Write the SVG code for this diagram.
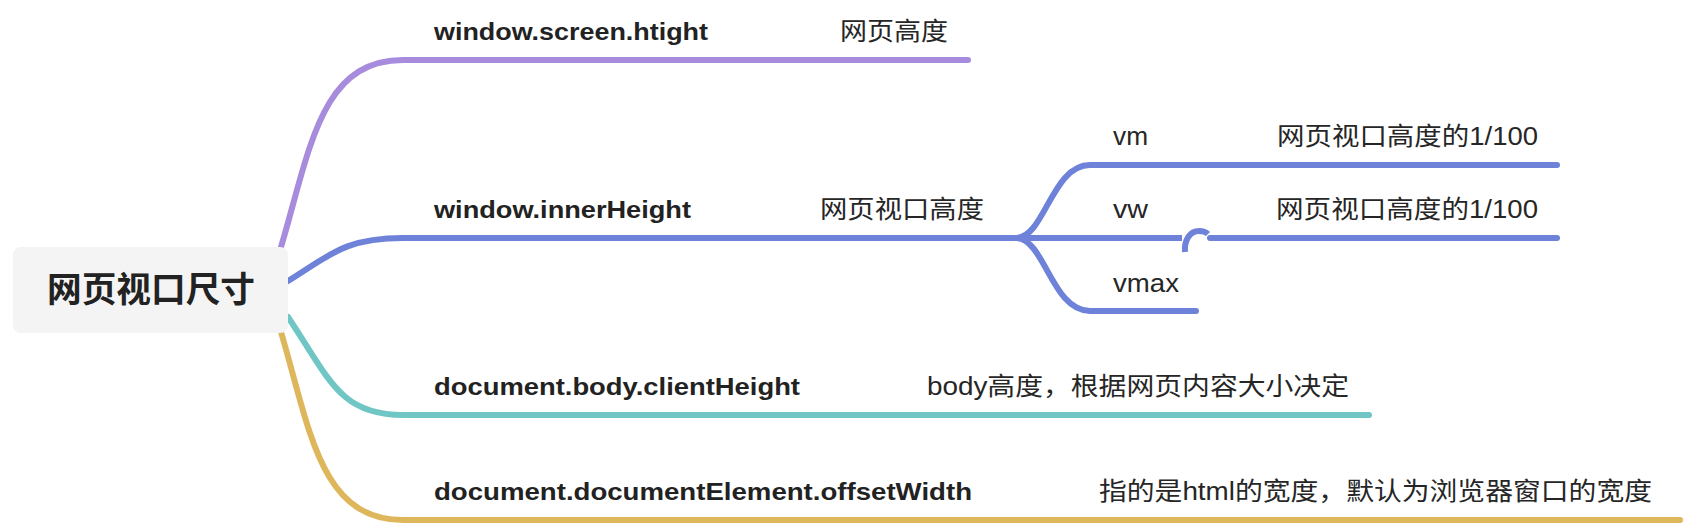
<svg xmlns="http://www.w3.org/2000/svg" width="1684" height="524" viewBox="0 0 1684 524">
  <style>
    .ln { fill: none; stroke-width: 6; stroke-linecap: round; stroke-linejoin: round; }
    .pu { stroke: #A78BDD; }
    .bl { stroke: #6F82DA; }
    .te { stroke: #6FC6C4; }
    .go { stroke: #DEB75D; }
    .t1 { font-family: "Liberation Sans", "Noto Sans CJK SC", sans-serif; font-size: 24px; font-weight: bold; fill: #222; }
    .t2 { font-family: "Liberation Sans", "Noto Sans CJK SC", sans-serif; font-size: 25px; fill: #262626; }
    .root { font-family: "Noto Sans CJK SC", sans-serif; font-size: 35px; font-weight: bold; fill: #222; }
  </style>
  <rect width="1684" height="524" fill="#ffffff"/>
  <g id="connectors">
    <path class="ln pu" d="M281 247 C310 150 320 60 403 60 H968"/>
    <path class="ln bl" d="M288 281 C330 255 345 238 403 238 H1017"/>
    <path class="ln bl" d="M1017 238 C1045 236 1052 165 1090 165 H1557"/>
    <path class="ln bl" d="M1017 238 H1182" style="stroke-linecap:butt"/>
    <path class="ln bl" d="M1185 252 C1184 240 1190 231 1199 231 C1203 231 1206 232 1208 234" style="stroke-linecap:butt"/>
    <path class="ln bl" d="M1210 238 H1557"/>
    <path class="ln bl" d="M1017 238 C1045 240 1052 311 1090 311 H1196"/>
    <path class="ln te" d="M288 317 C330 380 340 415 403 415 H1369"/>
    <path class="ln go" d="M281 332 C310 430 320 520 403 520 H1680"/>
  </g>
  <g id="root">
    <rect x="13" y="247" width="275" height="86" rx="8" fill="#F4F4F4"/>
    <text class="root" x="47" y="302" textLength="208" lengthAdjust="spacingAndGlyphs">网页视口尺寸</text>
  </g>
  <g id="n-screen">
    <text class="t1" x="434" y="40" textLength="274" lengthAdjust="spacingAndGlyphs">window.screen.htight</text>
  </g>
  <g id="n-screen-desc">
    <text class="t2" x="840" y="40" textLength="108" lengthAdjust="spacingAndGlyphs">网页高度</text>
  </g>
  <g id="n-inner">
    <text class="t1" x="434" y="218" textLength="257" lengthAdjust="spacingAndGlyphs">window.innerHeight</text>
  </g>
  <g id="n-inner-desc">
    <text class="t2" x="820" y="218" textLength="164" lengthAdjust="spacingAndGlyphs">网页视口高度</text>
  </g>
  <g id="n-vm">
    <text class="t2" x="1113" y="145" textLength="35" lengthAdjust="spacingAndGlyphs">vm</text>
  </g>
  <g id="n-vm-desc">
    <text class="t2" x="1277" y="145" textLength="261" lengthAdjust="spacingAndGlyphs">网页视口高度的1/100</text>
  </g>
  <g id="n-vw">
    <text class="t2" x="1113" y="218" textLength="35" lengthAdjust="spacingAndGlyphs">vw</text>
  </g>
  <g id="n-vw-desc">
    <text class="t2" x="1276" y="218" textLength="262" lengthAdjust="spacingAndGlyphs">网页视口高度的1/100</text>
  </g>
  <g id="n-vmax">
    <text class="t2" x="1113" y="292" textLength="66" lengthAdjust="spacingAndGlyphs">vmax</text>
  </g>
  <g id="n-body">
    <text class="t1" x="434" y="395" textLength="366" lengthAdjust="spacingAndGlyphs">document.body.clientHeight</text>
  </g>
  <g id="n-body-desc">
    <text class="t2" x="927" y="395" textLength="422" lengthAdjust="spacingAndGlyphs">body高度，根据网页内容大小决定</text>
  </g>
  <g id="n-offset">
    <text class="t1" x="434" y="500" textLength="538" lengthAdjust="spacingAndGlyphs">document.documentElement.offsetWidth</text>
  </g>
  <g id="n-offset-desc">
    <text class="t2" x="1099" y="500" textLength="553" lengthAdjust="spacingAndGlyphs">指的是html的宽度，默认为浏览器窗口的宽度</text>
  </g>
</svg>
